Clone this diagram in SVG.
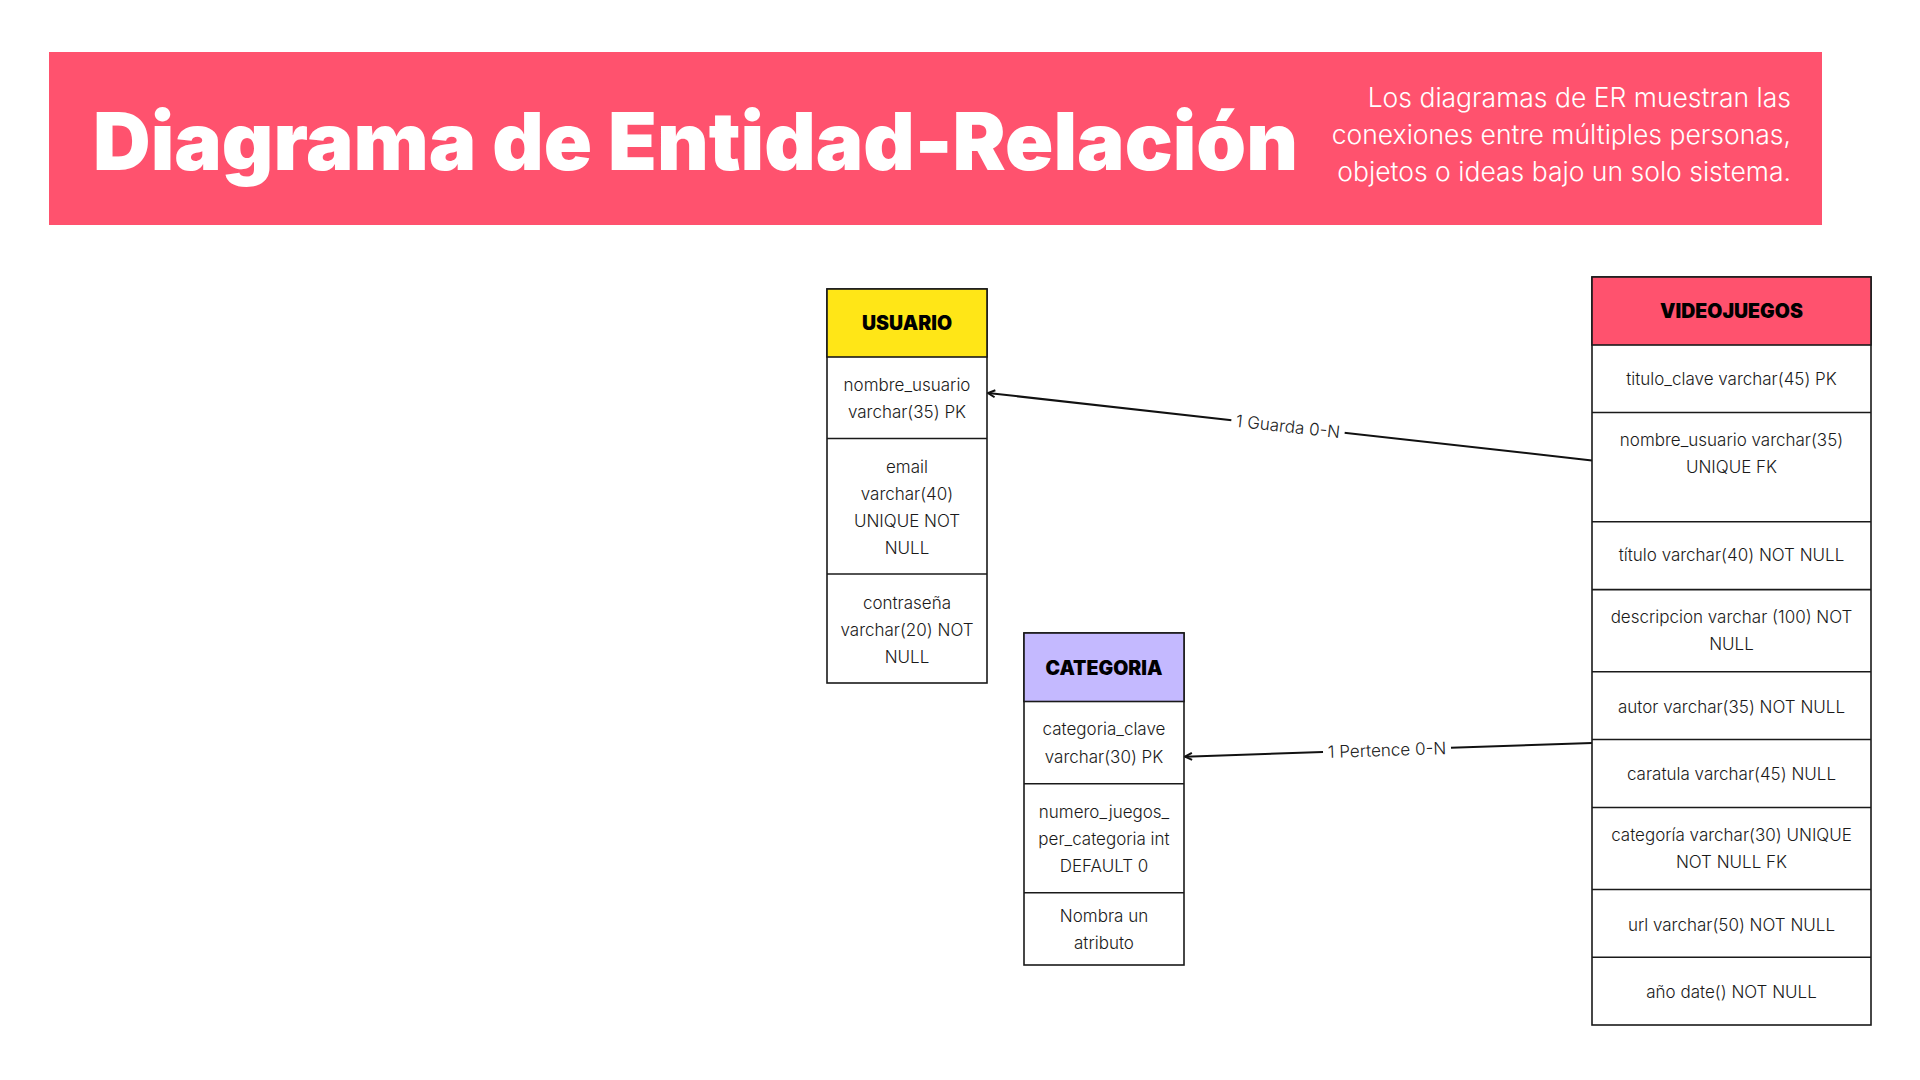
<svg xmlns="http://www.w3.org/2000/svg" width="1920" height="1080" viewBox="0 0 1920 1080">
<defs>
<style>
.box{fill:#ffffff;stroke:#1a1a1a;stroke-width:1.6}
.sep{stroke:#1a1a1a;stroke-width:1.6}
.hdr{font-family:Inter,"Liberation Sans",sans-serif;font-weight:900;font-size:19.5px;fill:#000;text-anchor:middle;dominant-baseline:central}
.cell{font-family:Inter,"Liberation Sans",sans-serif;font-weight:300;font-size:17px;fill:#1a1a1a;text-anchor:middle;dominant-baseline:central}
.conn{fill:none;stroke:#111;stroke-width:2}
.lbl{font-family:Inter,"Liberation Sans",sans-serif;font-weight:300;font-size:17px;fill:#222;text-anchor:middle;dominant-baseline:central}
</style>
<marker id="arr" viewBox="0 0 10 10" refX="9" refY="5" markerWidth="10" markerHeight="10" markerUnits="userSpaceOnUse" orient="auto-start-reverse">
<path d="M2,1.5 L9,5 L2,8.5" fill="none" stroke="#111" stroke-width="2"/>
</marker>
</defs>
<rect width="1920" height="1080" fill="#ffffff"/>
<g id="banner">
<rect x="49" y="52" width="1773" height="173" fill="#ff526e"/>
<text x="93" y="170" font-family="Inter,'Liberation Sans',sans-serif" font-weight="900" font-size="80" fill="#ffffff" textLength="1205" lengthAdjust="spacingAndGlyphs">Diagrama de Entidad-Relación</text>
<g font-family="Inter,'Liberation Sans',sans-serif" font-weight="300" font-size="26.5" fill="#ffffff" text-anchor="end">
<text x="1791" y="107">Los diagramas de ER muestran las</text>
<text x="1791" y="144">conexiones entre múltiples personas,</text>
<text x="1791" y="181">objetos o ideas bajo un solo sistema.</text>
</g>
</g>
<g id="connectors">
<line class="conn" x1="1592" y1="460.4" x2="988" y2="393" marker-end="url(#arr)"/>
<line class="conn" x1="1592" y1="743" x2="1185" y2="756.7" marker-end="url(#arr)"/>
<g transform="translate(1288,426.5) rotate(6.36)">
<rect x="-57" y="-11" width="114" height="22" fill="#ffffff"/>
<text class="lbl" x="0" y="0">1 Guarda 0-N</text>
</g>
<g transform="translate(1387,750) rotate(-1.92)">
<rect x="-64" y="-11" width="128" height="22" fill="#ffffff"/>
<text class="lbl" x="0" y="0">1 Pertence 0-N</text>
</g>
</g>
<g id="usuario">
<rect class="box" x="827" y="289" width="160" height="394"/>
<rect x="827" y="289" width="160" height="68" fill="#ffe617" stroke="#1a1a1a" stroke-width="1.6"/>
<line class="sep" x1="827" y1="438.5" x2="987" y2="438.5"/>
<line class="sep" x1="827" y1="574" x2="987" y2="574"/>
<text class="hdr" x="907" y="323">USUARIO</text>
<text class="cell" x="907" y="384.5">nombre_usuario</text>
<text class="cell" x="907" y="411.5">varchar(35) PK</text>
<text class="cell" x="907" y="466.5">email</text>
<text class="cell" x="907" y="493.5">varchar(40)</text>
<text class="cell" x="907" y="520.5">UNIQUE NOT</text>
<text class="cell" x="907" y="547.5">NULL</text>
<text class="cell" x="907" y="602.5">contraseña</text>
<text class="cell" x="907" y="629.5">varchar(20) NOT</text>
<text class="cell" x="907" y="656.5">NULL</text>
</g>
<g id="categoria">
<rect class="box" x="1024" y="633" width="160" height="332"/>
<rect x="1024" y="633" width="160" height="68.5" fill="#c4b9ff" stroke="#1a1a1a" stroke-width="1.6"/>
<line class="sep" x1="1024" y1="783.7" x2="1184" y2="783.7"/>
<line class="sep" x1="1024" y1="892.7" x2="1184" y2="892.7"/>
<text class="hdr" x="1104" y="667.5">CATEGORIA</text>
<text class="cell" x="1104" y="729">categoria_clave</text>
<text class="cell" x="1104" y="756.5">varchar(30) PK</text>
<text class="cell" x="1104" y="811.5">numero_juegos_</text>
<text class="cell" x="1104" y="838.5">per_categoria int</text>
<text class="cell" x="1104" y="865.5">DEFAULT 0</text>
<text class="cell" x="1104" y="916">Nombra un</text>
<text class="cell" x="1104" y="943">atributo</text>
</g>
<g id="videojuegos">
<rect class="box" x="1592" y="277" width="279" height="748"/>
<rect x="1592" y="277" width="279" height="68" fill="#ff526e" stroke="#1a1a1a" stroke-width="1.6"/>
<line class="sep" x1="1592" y1="412.5" x2="1871" y2="412.5"/>
<line class="sep" x1="1592" y1="521.8" x2="1871" y2="521.8"/>
<line class="sep" x1="1592" y1="589.6" x2="1871" y2="589.6"/>
<line class="sep" x1="1592" y1="671.8" x2="1871" y2="671.8"/>
<line class="sep" x1="1592" y1="739.5" x2="1871" y2="739.5"/>
<line class="sep" x1="1592" y1="807.5" x2="1871" y2="807.5"/>
<line class="sep" x1="1592" y1="889.5" x2="1871" y2="889.5"/>
<line class="sep" x1="1592" y1="957.3" x2="1871" y2="957.3"/>
<text class="hdr" x="1731.5" y="311">VIDEOJUEGOS</text>
<text class="cell" x="1731.5" y="378.5">titulo_clave varchar(45) PK</text>
<text class="cell" x="1731.5" y="440">nombre_usuario varchar(35)</text>
<text class="cell" x="1731.5" y="467">UNIQUE FK</text>
<text class="cell" x="1731.5" y="555">título varchar(40) NOT NULL</text>
<text class="cell" x="1731.5" y="617">descripcion varchar (100) NOT</text>
<text class="cell" x="1731.5" y="644">NULL</text>
<text class="cell" x="1731.5" y="706.5">autor varchar(35) NOT NULL</text>
<text class="cell" x="1731.5" y="774">caratula varchar(45) NULL</text>
<text class="cell" x="1731.5" y="835">categoría varchar(30) UNIQUE</text>
<text class="cell" x="1731.5" y="862">NOT NULL FK</text>
<text class="cell" x="1731.5" y="924.5">url varchar(50) NOT NULL</text>
<text class="cell" x="1731.5" y="992">año date() NOT NULL</text>
</g>
</svg>
